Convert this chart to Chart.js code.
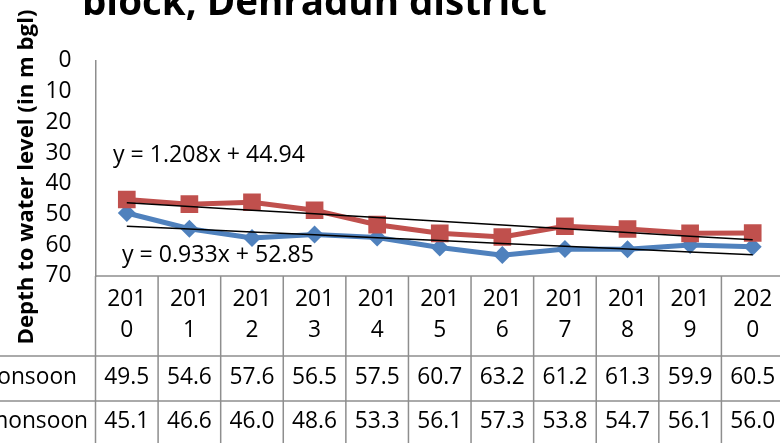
<!DOCTYPE html>
<html>
<head>
<meta charset="utf-8">
<script src="https://cdn.jsdelivr.net/npm/chart.js@4.4.1/dist/chart.umd.min.js"></script>
<style>
    html, body { margin: 0; padding: 0; overflow: hidden; background: #fff; }
    #wrap { width: 800px; height: 443px; }
</style>
</head>
<body>
<div id="wrap"><canvas id="levelChart" width="800" height="443"></canvas></div>
<script>
const years = ['2010', '2011', '2012', '2013', '2014', '2015', '2016', '2017', '2018', '2019', '2020'];
const preMonsoon = [49.5, 54.6, 57.6, 56.5, 57.5, 60.7, 63.2, 61.2, 61.3, 59.9, 60.5];
const postMonsoon = [45.1, 46.6, 46.0, 48.6, 53.3, 56.1, 57.3, 53.8, 54.7, 56.1, 56.0];
const seriesNames = ['Pre-monsoon', 'Post-monsoon'];
const yTicks = [0, 10, 20, 30, 40, 50, 60, 70];
const preTrend = [0.933, 52.85];
const postTrend = [1.208, 44.94];

const chartTitle = 'block, Dehradun district';
const yTitle = 'Depth to water level (in m bgl)';
const FONT = '"Open Sans", Lato, sans-serif';
const GRID = '#8e8e8e';

function trendValues(coef) {
    return years.map((y, i) => +(coef[0] * (i + 1) + coef[1]).toFixed(3));
}

// pick a font size so that text comes out at the width seen in the picture
function fitSize(text, weight, width) {
    const c = document.createElement('canvas').getContext('2d');
    c.font = weight + ' 20px ' + FONT;
    return 20 * width / c.measureText(text).width;
}

const tableSize = fitSize('49.5', 'normal', 45);
const tickSize = fitSize('10', 'normal', 26);

const textPlugin = {
    id: 'texts',
    afterDraw(chart) {
        const ctx = chart.ctx;
        const area = chart.chartArea;
        const xs = chart.scales.x;
        const step = (area.right - area.left) / years.length;

        ctx.save();
        ctx.fillStyle = '#000';

        // title, cut at the top edge
        ctx.font = 'bold ' + fitSize(chartTitle, 'bold', 465) + 'px ' + FONT;
        ctx.textAlign = 'left';
        ctx.textBaseline = 'alphabetic';
        ctx.fillText(chartTitle, 82, 15);

        // axis title
        ctx.save();
        ctx.translate(33, 177);
        ctx.rotate(-Math.PI / 2);
        ctx.font = 'bold ' + fitSize(yTitle, 'bold', 335) + 'px ' + FONT;
        ctx.textAlign = 'center';
        ctx.fillText(yTitle, 0, 0);
        ctx.restore();

        // trendline equations
        const eqPost = 'y = ' + postTrend[0] + 'x + ' + postTrend[1];
        const eqPre = 'y = ' + preTrend[0] + 'x + ' + preTrend[1];
        ctx.font = fitSize(eqPost, 'normal', 192) + 'px ' + FONT;
        ctx.textBaseline = 'middle';
        ctx.textAlign = 'left';
        ctx.fillText(eqPost, 113, 155);
        ctx.fillText(eqPre, 122, 255);

        // data table
        const top = area.bottom;
        const rows = [356, 401, 446];
        ctx.strokeStyle = GRID;
        ctx.lineWidth = 1.5;
        ctx.beginPath();
        ctx.moveTo(area.left, top);
        ctx.lineTo(800, top);
        ctx.moveTo(0, rows[0]);
        ctx.lineTo(800, rows[0]);
        ctx.moveTo(0, rows[1]);
        ctx.lineTo(800, rows[1]);
        for (let k = 0; k <= years.length; k++) {
            const x = area.left + k * step;
            ctx.moveTo(x, top);
            ctx.lineTo(x, 443);
        }
        ctx.stroke();

        ctx.font = tableSize + 'px ' + FONT;
        ctx.textAlign = 'center';
        years.forEach((y, i) => {
            const x = xs.getPixelForValue(i);
            ctx.fillText(y.slice(0, 3), x, 300);
            ctx.fillText(y.slice(3), x, 331);
            ctx.fillText(preMonsoon[i].toFixed(1), x, 378);
            ctx.fillText(postMonsoon[i].toFixed(1), x, 422);
        });

        ctx.textAlign = 'right';
        ctx.fillText(seriesNames[0], 77, 378);
        ctx.fillText(seriesNames[1], 88, 422);
        ctx.restore();
    }
};

const ctx = document.getElementById('levelChart');

new Chart(ctx, {
    type: 'line',
    data: {
        labels: years,
        datasets: [
            {
                label: 'Post-monsoon trend',
                data: trendValues(postTrend),
                borderColor: '#000',
                borderWidth: 1.5,
                pointRadius: 0,
                order: 0
            },
            {
                label: 'Pre-monsoon trend',
                data: trendValues(preTrend),
                borderColor: '#000',
                borderWidth: 1.5,
                pointRadius: 0,
                order: 0
            },
            {
                label: seriesNames[1],
                data: postMonsoon,
                borderColor: '#C0504D',
                backgroundColor: '#C0504D',
                borderWidth: 5,
                pointStyle: 'rect',
                pointRadius: 12.5,
                pointBorderWidth: 0,
                order: 1
            },
            {
                label: seriesNames[0],
                data: preMonsoon,
                borderColor: '#4F81BD',
                backgroundColor: '#4F81BD',
                borderWidth: 5,
                pointStyle: 'rectRot',
                pointRadius: 9,
                pointBorderWidth: 0,
                order: 2
            }
        ]
    },
    options: {
        responsive: false,
        devicePixelRatio: 1,
        animation: false,
        layout: {
            padding: { left: 0, right: 16, top: 61, bottom: 443 - 276 }
        },
        plugins: {
            legend: { display: false },
            tooltip: { enabled: false }
        },
        scales: {
            x: {
                display: false,
                offset: true
            },
            y: {
                reverse: true,
                min: 0,
                max: 70,
                afterBuildTicks: (scale) => {
                    scale.ticks = yTicks.map(v => ({ value: v }));
                },
                afterFit: (scale) => {
                    scale.width = 95.5;
                },
                grid: {
                    display: true,
                    drawOnChartArea: false,
                    drawTicks: false
                },
                border: {
                    color: GRID,
                    width: 1.5
                },
                ticks: {
                    padding: 24,
                    color: '#000',
                    font: { family: FONT, size: tickSize }
                }
            }
        }
    },
    plugins: [textPlugin]
});
</script>
</body>
</html>
